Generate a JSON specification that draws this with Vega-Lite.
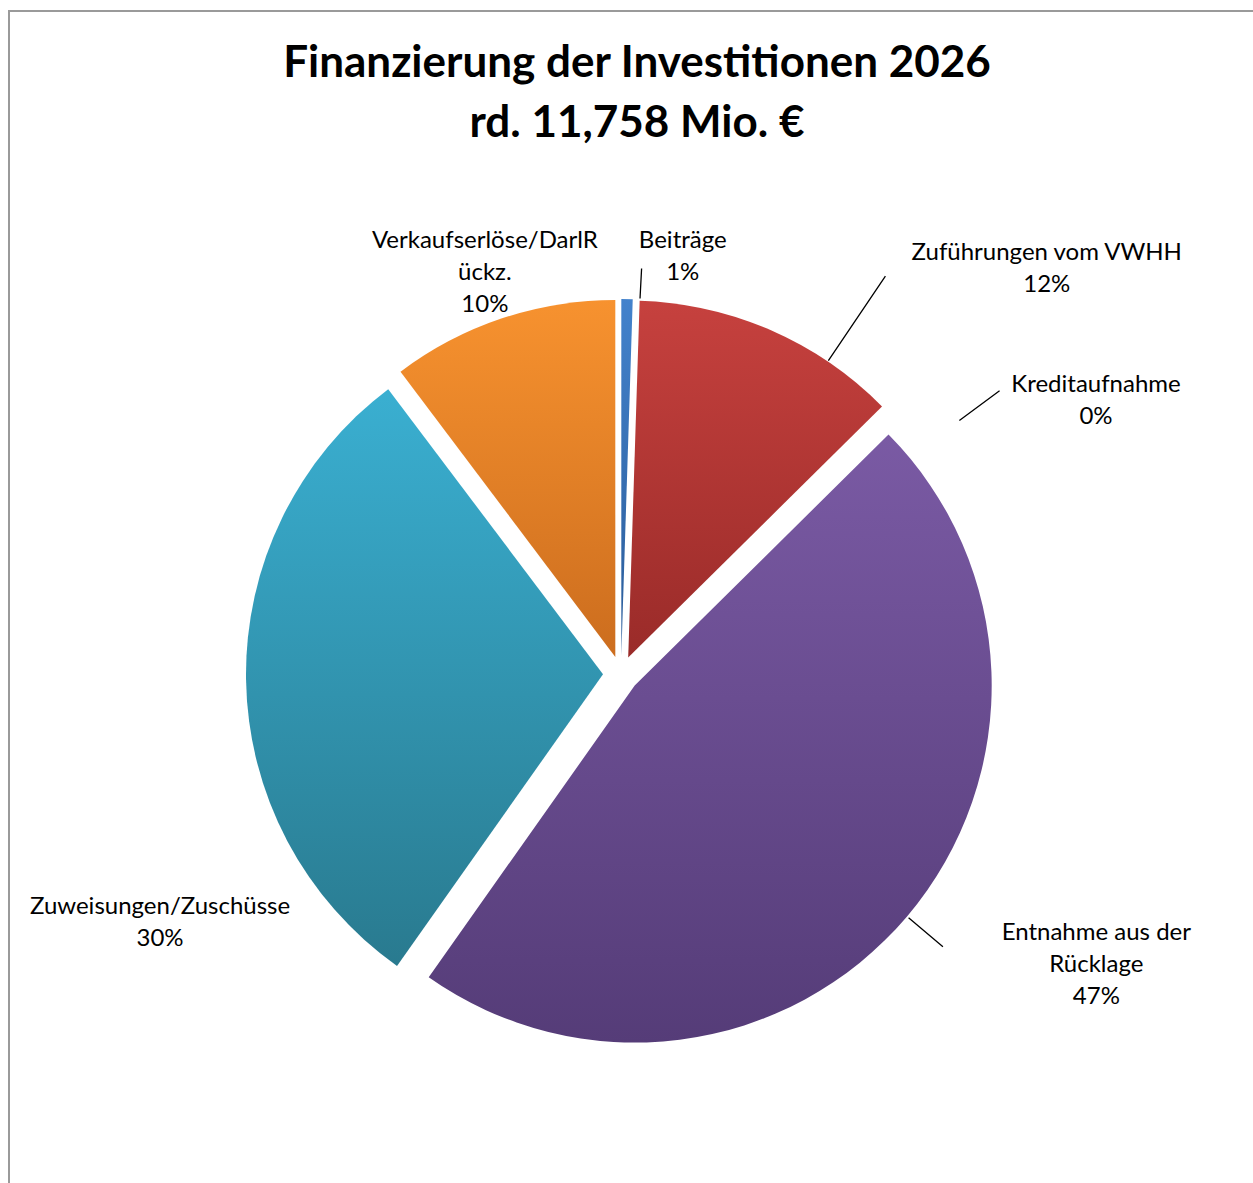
{
  "$schema": "https://vega.github.io/schema/vega-lite/v6.json",
  "autosize": "none",
  "width": 1252,
  "height": 1182,
  "padding": {"left": 9, "top": 11, "right": 0, "bottom": 0},
  "background": "white",
  "view": {"stroke": "#9a9a9a", "strokeWidth": 2},
  "title": {
    "text": ["Finanzierung der Investitionen 2026", "rd. 11,758 Mio. €"],
    "font": "Lato", "fontSize": 44, "fontWeight": "bold", "color": "#000000",
    "lineHeight": 60, "anchor": "start", "frame": "group", "baseline": "top", "align": "center",
    "offset": -135, "dx": 628
  },
  "data": {"values": [
    {"idx": 1, "cat": "Beiträge", "value": 0.06, "label": "Beiträge\n1%"},
    {"idx": 2, "cat": "Zuführungen vom VWHH", "value": 1.42, "label": "Zuführungen vom VWHH\n12%"},
    {"idx": 3, "cat": "Kreditaufnahme", "value": 0, "label": "Kreditaufnahme\n0%"},
    {"idx": 4, "cat": "Entnahme aus der Rücklage", "value": 5.55, "label": "Entnahme aus der\nRücklage\n47%"},
    {"idx": 5, "cat": "Zuweisungen/Zuschüsse", "value": 3.52, "label": "Zuweisungen/Zuschüsse\n30%"},
    {"idx": 6, "cat": "Verkaufserlöse/DarlRückz.", "value": 1.208, "label": "Verkaufserlöse/DarlR\nückz.\n10%"}
  ]},
  "encoding": {
    "theta": {"field": "value", "type": "quantitative", "stack": true},
    "order": {"field": "idx", "type": "quantitative"}
  },
  "layer": [
    {"mark": {"type": "arc", "x": 612.3, "y": 645, "radius": 357,
      "fill": {"gradient": "linear", "x1": 0, "y1": 0, "x2": 0, "y2": 1, "stops": [{"offset": 0, "color": "#4382cc"}, {"offset": 1, "color": "#2a5b98"}]}},
     "encoding": {"opacity": {"condition": {"test": "datum.idx === 1", "value": 1}, "value": 0}}},
    {"mark": {"type": "arc", "x": 619.2, "y": 646.5, "radius": 357,
      "fill": {"gradient": "linear", "x1": 0, "y1": 0, "x2": 0, "y2": 1, "stops": [{"offset": 0, "color": "#c6413e"}, {"offset": 1, "color": "#9a2b29"}]}},
     "encoding": {"opacity": {"condition": {"test": "datum.idx === 2", "value": 1}, "value": 0}}},
    {"mark": {"type": "arc", "x": 625.7, "y": 674.6, "radius": 357,
      "fill": {"gradient": "linear", "x1": 0, "y1": 0, "x2": 0, "y2": 1, "stops": [{"offset": 0, "color": "#7a5aa4"}, {"offset": 1, "color": "#553c78"}]}},
     "encoding": {"opacity": {"condition": {"test": "datum.idx === 4", "value": 1}, "value": 0}}},
    {"mark": {"type": "arc", "x": 594, "y": 663.3, "radius": 357,
      "fill": {"gradient": "linear", "x1": 0, "y1": 0, "x2": 0, "y2": 1, "stops": [{"offset": 0, "color": "#3aafd1"}, {"offset": 1, "color": "#297a8f"}]}},
     "encoding": {"opacity": {"condition": {"test": "datum.idx === 5", "value": 1}, "value": 0}}},
    {"mark": {"type": "arc", "x": 606.3, "y": 645.9, "radius": 357,
      "fill": {"gradient": "linear", "x1": 0, "y1": 0, "x2": 0, "y2": 1, "stops": [{"offset": 0, "color": "#f7922f"}, {"offset": 1, "color": "#cc6d1e"}]}},
     "encoding": {"opacity": {"condition": {"test": "datum.idx === 6", "value": 1}, "value": 0}}},
    {"mark": {"type": "arc", "x": 612.3, "y": 645, "radius": 388, "radius2": 358, "padAngle": 3.1416, "thetaOffset": 0.0363, "filled": false, "stroke": "#000000", "strokeWidth": 1.3},
     "encoding": {"opacity": {"condition": {"test": "datum.idx === 1", "value": 1}, "value": 0}}},
    {"mark": {"type": "arc", "x": 619.2, "y": 646.5, "radius": 460, "radius2": 358, "padAngle": 3.1416, "thetaOffset": 0.1819, "filled": false, "stroke": "#000000", "strokeWidth": 1.3},
     "encoding": {"opacity": {"condition": {"test": "datum.idx === 2", "value": 1}, "value": 0}}},
    {"mark": {"type": "arc", "x": 624.8, "y": 650.4, "radius": 455, "radius2": 405, "padAngle": 3.1416, "thetaOffset": 0.1429, "filled": false, "stroke": "#000000", "strokeWidth": 1.3},
     "encoding": {"opacity": {"condition": {"test": "datum.idx === 3", "value": 1}, "value": 0}}},
    {"mark": {"type": "arc", "x": 625.7, "y": 674.6, "radius": 404, "radius2": 359, "padAngle": 3.1416, "thetaOffset": 0, "filled": false, "stroke": "#000000", "strokeWidth": 1.3},
     "encoding": {"opacity": {"condition": {"test": "datum.idx === 4", "value": 1}, "value": 0}}},
    {"mark": {"type": "text", "x": 612, "y": 663, "radius": 422, "dx": 55, "dy": -11, "font": "Lato", "fontSize": 24, "lineHeight": 32, "lineBreak": "\n", "align": "center", "baseline": "middle", "color": "#000000"},
     "encoding": {"text": {"field": "label"}, "opacity": {"condition": {"test": "datum.idx === 1", "value": 1}, "value": 0}}},
    {"mark": {"type": "text", "x": 612, "y": 663, "radius": 442, "dx": 249, "dy": -16, "font": "Lato", "fontSize": 24, "lineHeight": 32, "lineBreak": "\n", "align": "center", "baseline": "middle", "color": "#000000"},
     "encoding": {"text": {"field": "label"}, "opacity": {"condition": {"test": "datum.idx === 2", "value": 1}, "value": 0}}},
    {"mark": {"type": "text", "x": 612, "y": 663, "radius": 391, "dx": 197, "dy": -14, "font": "Lato", "fontSize": 24, "lineHeight": 32, "lineBreak": "\n", "align": "center", "baseline": "middle", "color": "#000000"},
     "encoding": {"text": {"field": "label"}, "opacity": {"condition": {"test": "datum.idx === 3", "value": 1}, "value": 0}}},
    {"mark": {"type": "text", "x": 612, "y": 663, "radius": 450, "dx": 132, "dy": -32, "font": "Lato", "fontSize": 24, "lineHeight": 32, "lineBreak": "\n", "align": "center", "baseline": "middle", "color": "#000000"},
     "encoding": {"text": {"field": "label"}, "opacity": {"condition": {"test": "datum.idx === 4", "value": 1}, "value": 0}}},
    {"mark": {"type": "text", "x": 612, "y": 663, "radius": 461, "dx": 0, "dy": 226, "font": "Lato", "fontSize": 24, "lineHeight": 32, "lineBreak": "\n", "align": "center", "baseline": "middle", "color": "#000000"},
     "encoding": {"text": {"field": "label"}, "opacity": {"condition": {"test": "datum.idx === 5", "value": 1}, "value": 0}}},
    {"mark": {"type": "text", "x": 612, "y": 663, "radius": 423, "dx": -2, "dy": -32, "font": "Lato", "fontSize": 24, "lineHeight": 32, "lineBreak": "\n", "align": "center", "baseline": "middle", "color": "#000000"},
     "encoding": {"text": {"field": "label"}, "opacity": {"condition": {"test": "datum.idx === 6", "value": 1}, "value": 0}}}
  ]
}
